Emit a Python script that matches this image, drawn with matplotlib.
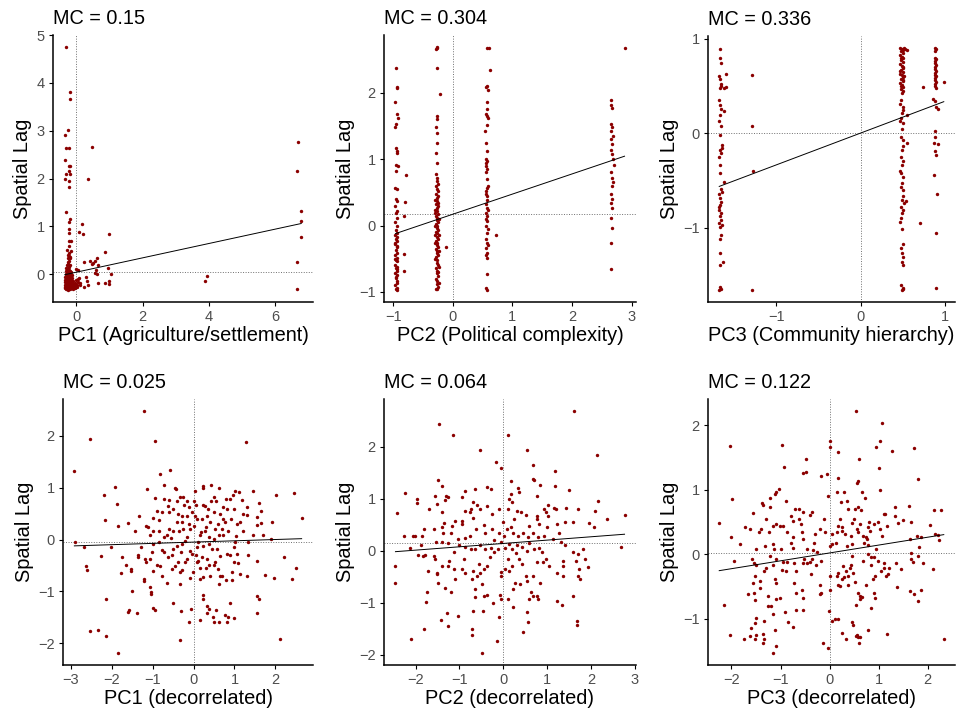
import numpy as np
import matplotlib
matplotlib.use('Agg')
import matplotlib.pyplot as plt

plt.rcParams['font.family'] = ['Liberation Sans', 'DejaVu Sans']

# Moran's I per panel (slope of the fitted line) and mean spatial lag (dotted line)
mc_values = [0.15, 0.304, 0.336, 0.025, 0.064, 0.122]
titles = ['MC = 0.15', 'MC = 0.304', 'MC = 0.336', 'MC = 0.025', 'MC = 0.064', 'MC = 0.122']
mean_lag = [0.04, 0.17, 0.0, -0.05, 0.14, 0.02]
xlabels = ['PC1 (Agriculture/settlement)', 'PC2 (Political complexity)', 'PC3 (Community hierarchy)',
           'PC1 (decorrelated)', 'PC2 (decorrelated)', 'PC3 (decorrelated)']
ylabel = 'Spatial Lag'

# PC1 (Agriculture/settlement) vs spatial lag
agri_pts = [
    (-0.32, 4.75), (-0.2, 3.81), (-0.2, 3.67), (-0.24, 3.02), (-0.34, 2.91), (-0.32, 2.63), (-0.23, 2.64),
    (0.48, 2.66), (-0.34, 2.38), (-0.23, 2.27), (-0.18, 2.27), (-0.32, 2.10), (-0.21, 2.16), (-0.2, 2.09),
    (-0.34, 1.98), (-0.23, 1.95), (0.34, 1.99), (-0.21, 1.83), (-0.32, 1.30), (-0.2, 1.16), (-0.23, 1.09),
    (0.16, 1.04), (-0.21, 0.95), (0.09, 0.89), (0.2, 0.83), (0.98, 0.83), (-0.23, 0.86), (-0.21, 0.69),
    (-0.16, 0.69), (-0.21, 0.58), (-0.28, 0.51), (-0.16, 0.48), (0.86, 0.46), (-0.23, 0.37), (-0.18, 0.34),
    (0.62, 0.34), (0.42, 0.27), (0.5, 0.23), (0.55, 0.27), (0.47, 0.22), (0.22, 0.25), (0.64, 0.2),
    (0.05, 0.09), (0.6, 0.09), (0.55, 0.02), (0.62, 0.01), (1.04, 0.01), (0.96, 0.13), (0.28, -0.07),
    (0.32, -0.15), (0.36, -0.22), (0.22, -0.26), (0.64, -0.18), (0.87, -0.18), (0.97, -0.2), (0.98, -0.15),
    (3.87, -0.15), (3.95, -0.05), (6.69, 2.77), (6.65, 2.16), (6.77, 1.32), (6.77, 1.12), (6.79, 0.77),
    (6.65, 0.25), (6.65, -0.32),
    (-0.34, -0.30), (-0.31, -0.32), (-0.28, -0.31), (-0.25, -0.33), (-0.22, -0.30), (-0.19, -0.31),
    (-0.16, -0.29), (-0.33, -0.26), (-0.30, -0.27), (-0.27, -0.25), (-0.24, -0.27), (-0.21, -0.26),
    (-0.18, -0.24), (-0.15, -0.26), (-0.12, -0.25), (-0.35, -0.22), (-0.32, -0.21), (-0.29, -0.23),
    (-0.26, -0.20), (-0.23, -0.22), (-0.20, -0.21), (-0.17, -0.19), (-0.14, -0.22), (-0.11, -0.2),
    (-0.08, -0.21), (-0.34, -0.17), (-0.31, -0.16), (-0.28, -0.18), (-0.25, -0.15), (-0.22, -0.17),
    (-0.19, -0.16), (-0.16, -0.14), (-0.13, -0.17), (-0.1, -0.15), (-0.05, -0.18), (-0.33, -0.12),
    (-0.30, -0.11), (-0.27, -0.13), (-0.24, -0.1), (-0.21, -0.12), (-0.18, -0.09), (-0.15, -0.11),
    (-0.12, -0.08), (-0.34, -0.07), (-0.31, -0.05), (-0.28, -0.08), (-0.25, -0.04), (-0.22, -0.06),
    (-0.19, -0.03), (-0.16, -0.05), (-0.13, -0.02), (-0.32, 0.0), (-0.29, 0.02), (-0.26, -0.01),
    (-0.23, 0.03), (-0.20, 0.01), (-0.17, 0.04), (-0.30, 0.06), (-0.27, 0.08), (-0.24, 0.05),
    (-0.21, 0.09), (-0.18, 0.07), (-0.31, 0.12), (-0.26, 0.13), (-0.22, 0.15), (-0.28, 0.18),
    (-0.24, 0.21), (-0.20, 0.2), (-0.26, 0.25), (-0.22, 0.28), (-0.24, 0.33), (-0.2, 0.36),
    (-0.25, 0.41), (-0.22, 0.44), (0.0, -0.2), (0.03, -0.23), (0.06, -0.17), (0.1, -0.22),
    (0.12, -0.18), (0.02, -0.28), (-0.02, -0.12), (0.05, -0.1), (0.0, 0.1), (0.07, -0.08),
    (-0.05, -0.3), (-0.02, -0.25), (-0.08, -0.28), (-0.1, -0.32), (-0.13, -0.3), (-0.29, -0.29),
    (-0.23, -0.28), (-0.17, -0.27), (-0.3, -0.2), (-0.26, -0.24), (-0.2, -0.18), (-0.27, -0.16),
    (-0.23, -0.14), (-0.29, -0.1), (-0.2, -0.1), (-0.26, -0.07), (-0.21, -0.02), (-0.28, 0.03),
]

# PC2 (Political complexity) vs spatial lag
polit_pts = [
    (-0.95, 2.38), (-0.94, 2.09), (-0.93, 2.07), (-0.96, 1.86), (-0.94, 1.68), (-0.92, 1.62), (-0.95, 1.53),
    (-0.96, 1.48), (-0.95, 1.17), (-0.93, 1.13), (-0.94, 1.1), (-0.95, 0.92), (-0.92, 0.9), (-0.95, 0.82),
    (-0.96, 0.57), (-0.94, 0.55), (-0.95, 0.4), (-0.93, 0.37), (-0.96, 0.3), (-0.94, 0.22), (-0.95, 0.19),
    (-0.93, 0.12), (-0.96, 0.05), (-0.94, -0.01), (-0.95, -0.06), (-0.93, -0.11), (-0.96, -0.14),
    (-0.94, -0.17), (-0.95, -0.21), (-0.93, -0.24), (-0.96, -0.26), (-0.94, -0.31), (-0.95, -0.37),
    (-0.93, -0.41), (-0.96, -0.45), (-0.94, -0.49), (-0.95, -0.52), (-0.93, -0.54), (-0.96, -0.59),
    (-0.94, -0.62), (-0.95, -0.64), (-0.93, -0.69), (-0.96, -0.72), (-0.94, -0.74), (-0.95, -0.79),
    (-0.93, -0.84), (-0.96, -0.89), (-0.94, -0.94), (-0.95, -0.96), (-0.93, -0.97), (-0.96, -0.28),
    (-0.93, -0.33), (-0.96, -0.5), (-0.93, -0.66), (-0.95, -0.77), (-0.94, -0.86),
    (-0.79, 0.76), (-0.8, 0.35), (-0.81, 0.15), (-0.81, -0.43), (-0.81, -0.69),
    (-0.27, 2.69), (-0.26, 2.68), (-0.28, 2.66), (-0.27, 2.38), (-0.27, 1.65), (-0.26, 1.61),
    (-0.28, 1.49), (-0.27, 1.4), (-0.27, 1.24), (-0.28, 1.1), (-0.26, 0.95), (-0.28, 0.77),
    (-0.26, 0.72), (-0.27, 0.67), (-0.25, 0.62), (-0.28, 0.6), (-0.26, 0.55), (-0.24, 0.52),
    (-0.28, 0.47), (-0.26, 0.42), (-0.27, 0.37), (-0.25, 0.34), (-0.28, 0.32), (-0.26, 0.27),
    (-0.29, 0.24), (-0.27, 0.22), (-0.25, 0.18), (-0.28, 0.15), (-0.26, 0.12), (-0.27, 0.09),
    (-0.24, 0.06), (-0.28, 0.03), (-0.26, 0.0), (-0.27, -0.03), (-0.25, -0.06), (-0.28, -0.09),
    (-0.26, -0.12), (-0.29, -0.15), (-0.27, -0.18), (-0.25, -0.21), (-0.28, -0.24), (-0.26, -0.27),
    (-0.27, -0.3), (-0.24, -0.33), (-0.28, -0.36), (-0.26, -0.39), (-0.27, -0.42), (-0.25, -0.45),
    (-0.28, -0.48), (-0.26, -0.52), (-0.27, -0.56), (-0.24, -0.6), (-0.28, -0.64), (-0.26, -0.68),
    (-0.27, -0.72), (-0.25, -0.76), (-0.28, -0.8), (-0.26, -0.84), (-0.27, -0.88), (-0.25, -0.92),
    (-0.28, -0.95), (-0.26, -0.96), (-0.24, 0.44), (-0.29, 0.39), (-0.24, 0.29), (-0.29, 0.19),
    (-0.23, 0.1), (-0.29, -0.01), (-0.23, -0.14), (-0.29, -0.26), (-0.23, -0.38), (-0.29, -0.5),
    (-0.23, -0.62), (-0.25, -0.7), (-0.23, -0.86), (-0.21, 1.98), (-0.11, -0.33),
    (0.57, 2.67), (0.6, 2.67), (0.62, 2.34), (0.58, 2.11), (0.56, 2.09), (0.59, 2.04), (0.57, 1.87),
    (0.58, 1.76), (0.56, 1.68), (0.57, 1.65), (0.58, 1.51), (0.54, 1.43), (0.56, 1.25), (0.57, 1.13),
    (0.56, 1.0), (0.58, 0.97), (0.55, 0.94), (0.57, 0.85), (0.56, 0.8), (0.58, 0.7), (0.57, 0.57),
    (0.56, 0.52), (0.58, 0.44), (0.57, 0.39), (0.55, 0.32), (0.58, 0.27), (0.56, 0.19), (0.57, 0.14),
    (0.58, 0.07), (0.56, -0.01), (0.57, -0.11), (0.58, -0.26), (0.56, -0.34), (0.57, -0.41),
    (0.58, -0.49), (0.57, -0.73), (0.56, -0.94), (0.58, -0.97), (0.59, 0.6), (0.55, 0.48),
    (0.59, 0.23), (0.55, 0.1), (0.59, -0.05), (0.55, -0.2), (0.59, -0.29), (0.55, -0.45),
    (0.59, 1.62), (0.55, 0.9), (0.72, -0.14),
    (2.66, 1.9), (2.65, 1.81), (2.67, 1.77), (2.66, 1.53), (2.67, 1.48), (2.65, 1.43), (2.68, 1.35),
    (2.66, 1.3), (2.67, 1.23), (2.65, 1.14), (2.67, 1.08), (2.68, 1.0), (2.7, 0.92), (2.66, 0.81),
    (2.67, 0.72), (2.69, 0.65), (2.67, 0.6), (2.65, 0.48), (2.67, 0.4), (2.66, 0.34), (2.67, 0.26),
    (2.66, 0.12), (2.67, -0.04), (2.66, -0.26), (2.65, -0.66), (2.88, 2.67),
]

# PC3 (Community hierarchy) vs spatial lag
comm_pts = [
    (-1.67, 0.89), (-1.67, 0.8), (-1.66, 0.74), (-1.68, 0.6), (-1.67, 0.57), (-1.66, 0.5), (-1.67, 0.48),
    (-1.68, 0.35), (-1.67, 0.3), (-1.66, 0.25), (-1.67, 0.19), (-1.68, 0.13), (-1.66, 0.07),
    (-1.67, -0.02), (-1.65, -0.13), (-1.67, -0.18), (-1.66, -0.21), (-1.68, -0.25), (-1.67, -0.34),
    (-1.67, -0.42), (-1.66, -0.59), (-1.68, -0.64), (-1.67, -0.69), (-1.66, -0.73), (-1.67, -0.76),
    (-1.68, -0.81), (-1.66, -0.85), (-1.67, -0.88), (-1.66, -0.92), (-1.68, -0.95), (-1.67, -0.99),
    (-1.66, -1.08), (-1.67, -1.12), (-1.67, -1.27), (-1.67, -1.4), (-1.67, -1.63), (-1.66, -1.65),
    (-1.68, -1.66), (-1.65, -0.62), (-1.68, -0.78), (-1.65, -0.97), (-1.66, 0.52), (-1.65, -0.16),
    (-1.6, 0.63), (-1.62, 0.48), (-1.6, 0.49), (-1.62, 0.23), (-1.62, -0.52), (-1.63, -1.36),
    (-1.29, 0.61), (-1.29, 0.07), (-1.28, -0.4), (-1.29, -1.66),
    (0.47, 0.9), (0.49, 0.89), (0.51, 0.88), (0.48, 0.87), (0.5, 0.85), (0.47, 0.83), (0.49, 0.81),
    (0.51, 0.79), (0.48, 0.77), (0.5, 0.75), (0.47, 0.73), (0.49, 0.71), (0.51, 0.69), (0.48, 0.67),
    (0.5, 0.65), (0.47, 0.63), (0.49, 0.61), (0.51, 0.59), (0.48, 0.57), (0.5, 0.55), (0.47, 0.53),
    (0.49, 0.51), (0.51, 0.49), (0.48, 0.47), (0.5, 0.45), (0.52, 0.9), (0.48, 0.8), (0.5, 0.7),
    (0.52, 0.6), (0.48, 0.5), (0.53, 0.89), (0.47, 0.66), (0.51, 0.56),
    (0.49, 0.42), (0.48, 0.35), (0.5, 0.28), (0.49, 0.21), (0.48, 0.16), (0.5, 0.11), (0.49, 0.04),
    (0.48, -0.04), (0.5, -0.07), (0.49, -0.18), (0.48, -0.25), (0.5, -0.3), (0.49, -0.34),
    (0.48, -0.42), (0.5, -0.46), (0.49, -0.53), (0.48, -0.57), (0.5, -0.67), (0.49, -0.71),
    (0.52, -0.74), (0.48, -0.78), (0.5, -0.81), (0.49, -0.85), (0.48, -0.9), (0.49, -1.01),
    (0.5, -1.17), (0.48, -1.22), (0.49, -1.27), (0.5, -1.31), (0.49, -1.36), (0.5, -1.4),
    (0.48, -1.61), (0.5, -1.64), (0.49, -1.66), (0.51, -1.65), (0.47, 0.31), (0.51, 0.24),
    (0.47, 0.13), (0.51, -0.14), (0.47, -0.4), (0.51, -0.6), (0.47, -0.94),
    (0.55, 0.88), (0.55, 0.19), (0.55, -0.11), (0.54, -0.72), (0.74, 0.49), (0.71, -0.95),
    (0.88, 0.9), (0.9, 0.89), (0.89, 0.87), (0.88, 0.8), (0.9, 0.78), (0.89, 0.76), (0.88, 0.74),
    (0.9, 0.72), (0.89, 0.7), (0.88, 0.68), (0.9, 0.66), (0.89, 0.64), (0.88, 0.62), (0.9, 0.6),
    (0.89, 0.58), (0.88, 0.56), (0.9, 0.54), (0.89, 0.52), (0.88, 0.5), (0.9, 0.48), (0.86, 0.36),
    (0.89, 0.34), (0.9, 0.28), (0.92, 0.25), (0.88, 0.02), (0.89, -0.04), (0.92, -0.12),
    (0.89, -0.19), (0.9, -0.23), (0.87, -0.1), (0.87, -0.44), (0.91, -0.64), (0.9, -1.06),
    (0.9, -1.64), (0.99, 0.54),
]

# PC1 (decorrelated) vs spatial lag
dec1_pts = [
    (-1.22, 2.48), (-2.52, 1.95), (-0.95, 1.90), (1.27, 1.88), (-2.91, 1.32), (-0.57, 1.35), (-0.83, 1.26),
    (-1.91, 1.01), (-1.13, 0.98), (-2.18, 0.86), (-1.87, 0.69), (-2.15, 0.37), (-1.85, 0.27),
    (-2.89, -0.04), (-2.68, -0.14), (-2.27, -0.31), (-2.62, -0.52), (-2.59, -0.58), (-2.02, -0.15),
    (-1.74, -0.34), (-1.76, -0.65), (-1.66, -0.5), (-1.53, -0.57), (-1.52, -0.6), (-2.13, -1.14),
    (-1.5, -1.0), (-1.57, -1.37), (-1.6, -1.4), (-1.39, -1.41), (-2.54, -1.76), (-2.34, -1.75),
    (-2.14, -1.87), (-1.84, -2.19), (-0.33, -1.94), (-0.3, -1.39), (-0.5, -1.23), (-0.06, -1.34),
    (-0.12, -1.59), (0.16, -1.55), (0.34, -1.29), (0.37, -1.35), (0.33, -1.41), (0.54, -1.37),
    (0.47, -1.5), (0.49, -1.6), (0.62, -1.59), (0.77, -1.45), (0.84, -1.5), (0.81, -1.59),
    (0.99, -1.52), (0.89, -1.23), (1.54, -1.1), (1.59, -1.14), (1.54, -1.41), (2.11, -1.92),
    (0.22, -1.08), (0.24, -1.15), (-0.98, -1.32), (-0.95, -1.36), (-1.2, -0.76), (-1.2, -0.81),
    (-1.06, -0.92), (-1.04, -1.02), (-1.03, -1.05), (-0.98, -0.61), (-0.89, -0.5), (-1.16, -0.44),
    (-1.36, -0.34),
    (0.42, 1.05), (0.24, 1.04), (0.22, 0.99), (0.61, 0.99), (0.04, 0.93), (-0.43, 0.98), (-0.46, 0.99),
    (-0.73, 1.06), (-0.95, 0.81), (-0.73, 0.79), (-0.33, 0.83), (-0.26, 0.83), (-0.6, 0.77),
    (-0.4, 0.75), (-0.16, 0.75), (0.02, 0.75), (-0.12, 0.63), (0.07, 0.66), (0.24, 0.66), (0.28, 0.65),
    (0.42, 0.75), (0.49, 0.82), (0.8, 0.79), (0.89, 0.79), (0.96, 0.85), (1.01, 0.93), (1.12, 0.92),
    (1.19, 0.77), (1.46, 0.93), (1.59, 0.71), (1.3, 0.63), (1.65, 0.56), (2.46, 0.9), (2.02, 0.85),
    (2.64, 0.41), (1.56, 0.43), (1.3, 0.48), (0.98, 0.59), (0.81, 0.59), (0.72, 0.63), (0.54, 0.75),
    (0.65, 0.5), (0.72, 0.4), (0.77, 0.34), (0.91, 0.4), (1.07, 0.3), (1.14, 0.34), (1.22, 0.17),
    (1.46, 0.08), (1.54, 0.28), (1.65, 0.32), (1.69, 0.09), (1.89, 0.01), (1.91, 0.34), (2.22, -0.33),
    (2.4, -0.76), (2.5, -0.55), (1.97, -0.75), (1.75, -0.68), (1.54, -0.41), (1.32, -0.3),
    (1.32, -0.05), (1.03, 0.06), (1.02, -0.05), (0.99, -0.15), (1.07, -0.28), (1.14, -0.66),
    (1.3, -0.7), (0.93, -0.62), (0.93, -0.79), (0.8, -0.78), (0.69, -0.7), (0.62, -0.86),
    (0.59, -0.57), (0.53, -0.44), (0.41, -0.7), (0.31, -0.55), (0.24, -0.73), (0.16, -0.76),
    (0.15, -0.55), (0.12, -0.41), (0.07, -0.29), (-0.03, -0.28), (-0.02, -0.62), (-0.08, -0.75),
    (-0.2, -0.44), (-0.28, -0.59), (-0.33, -0.63), (-0.33, -0.86), (-0.37, -0.44), (-0.45, -0.52),
    (-0.52, -0.57), (-0.65, -0.84), (-0.77, -0.7), (-0.81, -0.52), (-0.73, -0.25), (-0.77, -0.21),
    (-0.63, -0.34), (-0.53, -0.3), (-0.49, -0.19), (-0.41, -0.12), (-0.28, -0.08), (-0.2, -0.02),
    (-0.16, 0.05), (-0.08, 0.21), (0.02, 0.27), (0.08, 0.4), (0.04, 0.46), (-0.04, 0.53),
    (-0.16, 0.46), (-0.28, 0.34), (-0.41, 0.34), (-0.49, 0.17), (-0.59, 0.21), (-0.65, 0.08),
    (-0.73, 0.05), (-0.85, 0.17), (-0.98, 0.17), (-1.07, 0.08), (-1.1, 0.24), (-1.16, 0.27),
    (-0.99, 0.42), (-0.85, 0.37), (-0.89, 0.56), (-0.77, 0.54), (-0.61, 0.53), (-0.49, 0.59),
    (-0.37, 0.5), (-0.28, 0.46), (-0.24, 0.66), (-1.34, 0.45), (-1.6, 0.32), (-1.42, 0.17),
    (-1.36, -0.3), (-1.28, -0.15), (-1.18, -0.37), (-1.06, -0.37), (-1.02, -0.25), (0.2, 0.4),
    (0.33, 0.46), (0.49, 0.53), (0.41, 0.34), (0.53, 0.21), (0.28, 0.17), (0.15, 0.08), (0.24, -0.12),
    (0.37, -0.08), (0.45, -0.18), (0.57, -0.18), (0.65, -0.31), (0.81, -0.28), (0.89, -0.3),
    (0.73, 0.08), (0.85, 0.17), (0.61, 0.08), (0.49, 0.01), (0.39, 0.05), (0.12, -0.05), (0.08, -0.15),
    (-0.08, -0.23), (-0.16, -0.37), (0.08, -0.44), (0.2, -0.34), (0.33, -0.37), (0.38, -0.5),
    (0.49, -0.5), (0.65, -0.7), (0.98, -0.44), (1.08, -0.45), (-0.26, 0.21), (-0.36, 0.17),
    (-0.85, -0.05), (-0.98, -0.08), (-0.12, 0.3), (0.3, 0.25), (0.6, 0.3), (-0.55, 0.02),
    (0.7, 0.2), (-0.3, -0.25), (0.35, 0.58), (-0.62, 0.65), (0.18, 0.15), (1.2, 0.5),
]

# PC2 (decorrelated) vs spatial lag
dec2_pts = [
    (-1.46, 2.43), (-1.15, 2.23), (0.11, 2.23), (1.62, 2.68), (-0.54, 1.94), (0.54, 1.93), (2.15, 1.84),
    (-0.16, 1.70), (-0.06, 1.59), (0.68, 1.64), (1.19, 1.53), (0.67, 1.38), (0.7, 1.35), (0.17, 1.34),
    (-1.48, 1.35), (-1.4, 1.25), (-2.25, 1.1), (-2.43, 0.73), (-1.96, 1.0), (-1.96, 0.92), (-1.56, 1.06),
    (-1.3, 1.06), (-1.34, 0.98), (-1.69, 0.8), (-1.52, 0.9), (-1.4, 0.74), (-1.27, 1.04), (-0.88, 1.14),
    (-0.93, 1.03), (-0.64, 1.18), (-0.38, 1.22), (-0.29, 1.18), (0.34, 1.2), (0.36, 1.12), (0.18, 1.09),
    (0.13, 1.0), (0.21, 0.94), (0.84, 1.27), (1.19, 1.24), (1.51, 1.16), (0.78, 1.06), (1.03, 0.87),
    (1.15, 0.83), (1.2, 0.8), (1.43, 0.83), (1.7, 0.8), (2.16, 0.96), (2.09, 0.77), (2.38, 0.61),
    (2.77, 0.69), (2.7, 0.08), (1.95, 0.53), (2.07, 0.46), (1.59, 0.56), (1.41, 0.55), (1.28, 0.35),
    (1.22, 0.51), (1.03, 0.67), (0.93, 0.8), (0.97, 0.74), (0.77, 0.67), (0.76, 0.61), (0.82, 0.51),
    (0.59, 0.48), (0.51, 0.69), (0.4, 0.74), (0.31, 0.77), (0.11, 0.8), (-0.1, 0.8), (-0.25, 0.71),
    (-0.52, 0.8), (-0.37, 0.85), (-0.6, 0.87), (-0.69, 0.93), (-0.74, 0.8), (-0.87, 0.77), (-0.7, 0.62),
    (-0.75, 0.74), (-0.94, 0.58), (-0.93, 0.51), (-1.1, 0.58), (-1.16, 0.48), (-1.36, 0.53),
    (-1.39, 0.45), (-1.19, 0.35), (-1.38, 0.35), (-1.59, 0.42), (-1.8, 0.42), (-2.02, 0.29),
    (-1.86, 0.29), (-2.05, 0.28), (-2.26, 0.29), (-2.13, 0.05), (-1.88, 0.11), (-1.53, 0.16),
    (-1.4, 0.16), (-1.25, 0.14), (-1.03, 0.22), (-0.87, 0.24), (-0.75, 0.28), (-0.62, 0.42),
    (-0.44, 0.49), (-0.41, 0.35), (-0.25, 0.42), (-0.1, 0.35), (0.02, 0.29), (0.08, 0.42), (0.17, 0.45),
    (0.23, 0.35), (0.34, 0.29), (0.45, 0.35), (0.57, 0.26), (0.68, 0.35), (0.8, 0.26), (0.93, 0.29),
    (1.13, 0.22), (1.32, 0.16), (1.42, 0.11), (1.59, -0.03), (1.7, -0.06), (1.82, 0.03), (1.86, -0.16),
    (1.66, -0.19), (1.36, -0.19), (1.36, -0.3), (1.37, -0.48), (1.74, -0.35), (1.76, -0.55),
    (1.7, -0.48), (1.93, -0.32), (1.22, -0.42), (1.05, -0.29), (0.97, -0.16), (0.88, -0.03),
    (0.82, 0.06), (0.7, 0.03), (0.55, 0.0), (0.44, 0.08), (0.32, 0.11), (0.21, 0.03), (0.13, 0.13),
    (0.04, 0.06), (-0.06, 0.16), (-0.11, 0.03), (-0.21, -0.03), (-0.29, 0.06), (-0.41, 0.03),
    (-0.52, 0.11), (-0.64, 0.03), (-0.73, 0.03), (-0.87, 0.08), (-1.02, 0.11), (-1.13, -0.03),
    (-1.23, -0.19), (-1.25, -0.29), (-1.39, -0.29), (-1.59, -0.1), (-1.56, -0.16), (-1.52, -0.42),
    (-1.5, -0.61), (-1.52, -0.45), (-1.72, -0.39), (-1.79, -0.08), (-1.82, -0.1), (-1.95, -0.08),
    (-1.75, -0.8), (-1.77, -0.98), (-2.46, -0.3), (-2.46, -0.61), (-2.11, -1.7), (-1.8, -1.51),
    (-1.34, -0.71), (-1.2, -0.79), (-1.1, -0.55), (-1.29, -1.19), (-1.25, -1.44), (-1.43, -1.33),
    (-1.04, -1.25), (-1.13, -0.35), (-0.94, -0.35), (-0.87, -0.42), (-0.69, -0.39), (-0.71, -0.55),
    (-0.6, -0.48), (-0.54, -0.42), (-0.44, -0.35), (-0.37, -0.29), (-0.56, -0.26), (-0.48, -0.63),
    (-0.64, -0.73), (-0.64, -0.89), (-0.7, -1.16), (-0.71, -1.5), (-0.71, -1.61), (-0.43, -0.87),
    (-0.38, -0.85), (-0.46, -1.16), (-0.24, -1.0), (-0.08, -0.85), (-0.05, -0.93), (-0.1, -1.27),
    (-0.15, -1.73), (-0.48, -1.96), (-0.04, -0.48), (-0.06, -0.4), (0.04, -0.35), (0.13, -0.39),
    (0.11, -0.93), (0.22, -1.07), (0.22, -0.74), (0.28, -0.61), (0.38, -0.64), (0.21, -0.29),
    (0.36, -0.16), (0.42, -0.26), (0.51, -0.48), (0.55, -0.58), (0.67, -0.48), (0.63, -0.8),
    (0.67, -0.87), (0.59, -0.93), (0.78, -0.87), (0.8, -0.93), (0.84, -0.61), (0.91, -0.22),
    (0.78, -0.22), (0.55, -1.18), (0.57, -1.37), (0.46, -1.56), (1.22, -0.96), (1.34, -1.04),
    (1.68, -1.35), (1.69, -1.43), (1.59, -0.87), (0.0, 0.55), (0.25, 0.6), (-0.2, 0.2),
    (0.6, 0.15), (1.0, 0.45), (-0.9, -0.15), (0.3, -0.05), (-0.3, -0.12), (0.1, -0.15),
]

# PC3 (decorrelated) vs spatial lag
dec3_pts = [
    (0.53, 2.22), (1.08, 2.03), (0.0, 1.76), (0.01, 1.66), (1.03, 1.76), (0.95, 1.67), (1.27, 1.6),
    (1.73, 1.65), (0.18, 1.59), (-2.04, 1.68), (-0.97, 1.7), (0.61, 1.48), (-0.47, 1.48), (-0.93, 1.36),
    (1.01, 1.34), (-0.55, 1.26), (-0.47, 1.27), (-0.17, 1.22), (-0.05, 1.24), (0.17, 1.19), (0.55, 1.1),
    (0.58, 1.13), (1.81, 1.17), (1.03, 0.99), (-0.03, 0.91), (0.16, 0.97), (0.3, 0.97), (0.66, 0.96),
    (0.73, 0.88), (-1.04, 1.01), (-1.09, 0.96), (-1.12, 0.94), (-1.21, 0.87), (-1.98, 0.85),
    (-1.37, 0.79), (-1.35, 0.76), (-1.22, 0.73), (-0.89, 0.83), (-1.29, 0.55), (-1.39, 0.39),
    (-1.44, 0.34), (-1.57, 0.64), (-1.72, 0.42), (-1.63, 0.39), (-1.82, 0.16), (-2.01, 0.26),
    (-1.95, -0.1), (-2.25, 0.48), (-2.15, -0.79), (-2.03, -1.26), (-1.75, -1.31), (-1.67, -0.62),
    (-1.59, -0.08), (-1.55, -0.13), (-1.5, -0.17), (-1.52, -0.34), (-1.57, -0.44), (-1.55, -0.6),
    (-1.52, -0.71), (-1.51, -0.99), (-1.52, -1.06), (-1.61, -1.14), (-1.62, -1.27), (-1.52, -1.32),
    (-1.49, -1.25), (-1.35, -1.24), (-1.34, -1.31), (-1.35, -1.38), (-1.33, -1.04), (-1.42, -0.52),
    (-1.42, -0.42), (-1.33, -0.26), (-1.29, -0.21), (-1.22, -0.03), (-1.15, -0.16), (-1.09, -0.08),
    (-1.25, -0.65), (-1.25, -0.81), (-1.2, -0.81), (-1.15, -0.92), (-1.12, -1.17), (-1.15, -1.53),
    (-1.1, -1.42), (-1.09, -0.7), (-1.02, -0.68), (-1.12, -0.39), (-1.09, -0.44), (-0.97, -0.24),
    (-0.89, -0.26), (-0.91, -0.9), (-0.85, -1.05), (-0.74, -1.13), (-0.69, -0.86), (-0.55, -0.87),
    (-0.55, -0.68), (-0.72, -0.44), (-0.69, -0.6), (-0.57, -0.55), (-0.69, -0.26), (-0.72, -0.13),
    (-0.55, -0.13), (-0.53, -0.08), (-0.45, -0.13), (-0.39, -0.12), (-0.37, -0.3), (-0.27, -0.16),
    (-0.17, -0.1), (-0.19, -0.47), (-0.17, -0.6), (-0.2, -0.62), (-0.13, -1.37), (-0.04, -1.45),
    (-0.02, -0.88), (0.0, -0.34), (0.01, -0.55), (0.05, -1.04), (0.11, -1.01), (0.17, -0.29),
    (0.16, -0.34), (0.18, -0.47), (0.21, -0.49), (0.25, -0.39), (0.28, -0.18), (0.18, -1.01),
    (0.25, -1.22), (0.33, -1.31), (0.3, -0.36), (0.33, -0.26), (0.38, -0.34), (0.38, -0.47),
    (0.41, -0.21), (0.45, -0.03), (0.43, -0.16), (0.48, -0.29), (0.51, -0.43), (0.45, -1.05),
    (0.48, -1.1), (0.55, -1.25), (0.58, -1.28), (0.63, -1.28), (0.53, -1.27), (0.61, -1.38),
    (0.63, -0.7), (0.53, -0.79), (0.58, -0.6), (0.63, -0.65), (0.66, -0.66), (0.75, -0.47),
    (0.68, -0.1), (0.78, 0.0), (0.85, -0.04), (0.91, -0.04), (0.95, 0.08), (0.98, -0.1), (0.85, -0.16),
    (0.93, -0.34), (0.89, -0.39), (0.91, -0.6), (0.85, -0.83), (0.78, -1.17), (0.93, -0.68),
    (1.11, -0.13), (1.11, -0.21), (1.15, -0.34), (1.2, -0.3), (1.17, -1.23), (1.05, -0.26),
    (1.21, -0.21), (1.35, -0.13), (1.45, -0.23), (1.37, -0.51), (1.66, 0.02), (1.81, -0.02),
    (1.67, -0.08), (1.7, -0.12), (1.91, -0.13), (2.11, -0.23), (1.65, -0.57), (1.73, -0.62),
    (1.8, -0.73), (1.87, -0.55), (2.33, -1.31), (2.05, 0.45), (2.27, 0.68), (2.13, 0.68), (2.21, 0.3),
    (2.23, 0.22), (2.15, 0.31), (1.86, 0.26), (1.83, 0.11), (1.65, 0.24), (1.78, 0.29), (1.67, 0.5),
    (1.63, 0.75), (1.33, 0.73), (1.33, 0.6), (1.49, 0.53), (1.39, 0.49), (1.18, 0.44), (1.11, 0.62),
    (1.13, 0.63), (1.08, 0.29), (1.03, 0.39), (0.98, 0.5), (0.91, 0.47), (0.8, 0.5), (0.78, 0.42),
    (0.83, 0.36), (0.75, 0.26), (0.77, 0.24), (0.71, 0.18), (0.78, 0.14), (0.68, 0.29), (0.63, 0.47),
    (0.58, 0.34), (0.55, 0.39), (0.5, 0.55), (0.45, 0.49), (0.43, 0.29), (0.45, 0.16), (0.35, 0.13),
    (0.31, 0.31), (0.26, 0.36), (0.25, 0.42), (0.21, 0.55), (0.17, 0.44), (0.15, 0.34), (0.13, 0.18),
    (0.05, 0.16), (0.01, 0.13), (0.05, 0.31), (-0.09, 0.34), (-0.11, 0.55), (-0.2, 0.39),
    (-0.29, 0.31), (-0.32, 0.18), (-0.34, 0.07), (-0.25, 0.03), (-0.35, -0.08), (-0.45, 0.08),
    (-0.55, 0.23), (-0.57, 0.34), (-0.59, 0.47), (-0.62, 0.55), (-0.55, 0.66), (-0.63, 0.7),
    (-0.71, 0.7), (-0.75, 0.52), (-0.75, 0.26), (-0.79, 0.18), (-0.74, 0.09), (-0.87, -0.12),
    (-0.95, -0.12), (-0.99, 0.08), (-0.87, 0.34), (-0.79, 0.6), (-0.95, 0.44), (-1.02, 0.44),
    (-1.09, 0.47), (-1.15, 0.44), (-1.15, 0.16), (-1.13, 0.08), (-1.23, 0.34), (-1.32, 0.13),
    (-1.49, 0.08), (-0.39, 0.61), (-0.35, 0.66), (0.35, 0.82), (0.37, 0.7), (0.58, 0.74), (0.65, 0.68),
    (0.23, 0.81), (0.51, 0.7),
]

point_sets = [agri_pts, polit_pts, comm_pts, dec1_pts, dec2_pts, dec3_pts]
x_ticks = [[0, 2, 4, 6], [-1, 0, 1, 2, 3], [-1, 0, 1], [-3, -2, -1, 0, 1, 2], [-2, -1, 0, 1, 2, 3], [-2, -1, 0, 1, 2]]
y_ticks = [[0, 1, 2, 3, 4, 5], [-1, 0, 1, 2], [-1, 0, 1], [-2, -1, 0, 1, 2], [-2, -1, 0, 1, 2], [-1, 0, 1, 2]]

W, H = 957, 717
# panel boxes in pixels: left, top, right, bottom
boxes = [(53, 35, 313, 302), (384, 35, 636, 302), (708, 36, 955, 302),
         (63, 399, 313, 665), (384, 399, 636, 665), (708, 399, 955, 665)]

fig = plt.figure(figsize=(W / 100, H / 100), dpi=100)

for i, (l, t, r, b) in enumerate(boxes):
    ax = fig.add_axes([l / W, 1 - b / H, (r - l) / W, (b - t) / H])
    pts = np.array(point_sets[i])
    x, y = pts[:, 0], pts[:, 1]

    ax.axvline(0, color='#6f6f6f', lw=0.7, ls=(0, (1, 1.6)), zorder=1)
    ax.axhline(mean_lag[i], color='#6f6f6f', lw=0.7, ls=(0, (1, 1.6)), zorder=1)
    ax.scatter(x, y, s=6, color='#8B0000', linewidths=0, zorder=2)
    xs = np.array([x.min(), x.max()])
    ax.plot(xs, mean_lag[i] + mc_values[i] * xs, color='black', lw=0.7, zorder=3)

    ax.set_xticks(x_ticks[i])
    ax.set_yticks(y_ticks[i])
    for side in ['top', 'right']:
        ax.spines[side].set_visible(False)
    for side in ['left', 'bottom']:
        ax.spines[side].set_linewidth(1.1)
    ax.tick_params(length=3, width=0.8, color='black', labelcolor='#4D4D4D', labelsize=10.5, pad=3)
    ax.set_xlabel(xlabels[i], fontsize=14.4, labelpad=1)
    ax.set_ylabel(ylabel, fontsize=14.4, labelpad=3)
    ax.set_title(titles[i], loc='left', fontsize=14.3, pad=8)

fig.savefig('out.png', dpi=100)
